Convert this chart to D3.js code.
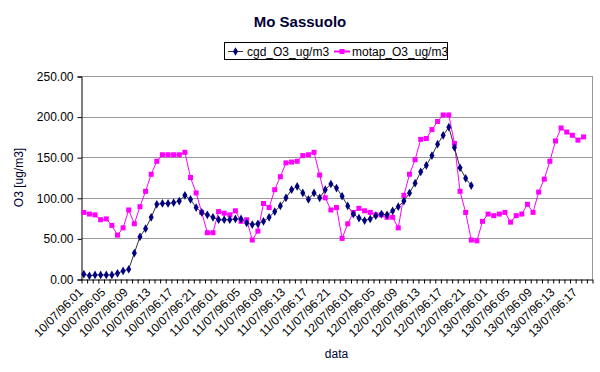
<!DOCTYPE html>
<html>
<head>
<meta charset="utf-8">
<script src="https://cdn.jsdelivr.net/npm/d3@7"></script>
<style>
  body { margin: 0; background: #fff; }
  svg { display: block; font-family: Arial, "Liberation Sans", sans-serif; }
</style>
</head>
<body>
<svg id="chart" width="600" height="372"></svg>
<script>
// hourly categories, 10/07/96:01 .. 13/07/96:19
const days = ['10', '11', '12', '13'];
const hours = ['01','02','03','04','05','06','07','08','09','10','11','12',
               '13','14','15','16','17','18','19','20','21','22','23','24'];
const categories = days.flatMap(d => hours.map(h => `${d}/07/96:${h}`)).slice(0, 91);

const tickLabels = [
  '10/07/96:01','10/07/96:05','10/07/96:09','10/07/96:13','10/07/96:17','10/07/96:21',
  '11/07/96:01','11/07/96:05','11/07/96:09','11/07/96:13','11/07/96:17','11/07/96:21',
  '12/07/96:01','12/07/96:05','12/07/96:09','12/07/96:13','12/07/96:17','12/07/96:21',
  '13/07/96:01','13/07/96:05','13/07/96:09','13/07/96:13','13/07/96:17'
];

const cgd = [
  6, 4, 5, 5, 5, 5, 7, 10, 12, 32, 52, 62, 76, 92, 93, 93,
  94, 96, 103, 98, 88, 82, 79, 76, 73, 73, 73, 74, 74, 69,
  67, 68, 71, 76, 83, 90, 100, 110, 114, 106, 98, 106, 100, 110, 117,
  112, 102, 90, 80, 75, 72, 74, 78, 80, 79, 84, 89, 96, 106, 118,
  132, 140, 152, 166, 177, 187, 162, 137, 124, 115
];

const motap = [
  82, 80, 79, 73, 74, 66, 54, 63, 85, 68, 89, 108, 129, 145, 153, 153,
  153, 153, 156, 125, 106, 82, 57, 57, 83, 81, 79, 84, 71, 73,
  48, 59, 93, 88, 110, 126, 143, 144, 145, 152, 153, 156, 128, 100, 85,
  88, 50, 68, 82, 87, 84, 82, 79, 79, 76, 76, 63, 103, 129, 147,
  172, 173, 184, 194, 202, 202, 167, 108, 82, 48, 47, 71, 80, 78, 80,
  82, 70, 78, 80, 92, 82, 107, 123, 145, 170, 186, 181, 177, 171, 175
];

const yTicks = [0, 50, 100, 150, 200, 250];

const navy = '#000080';
const pink = '#ff00ff';

const svg = d3.select('#chart');

const plotL = 81, plotR = 592, plotT = 76, plotB = 279;

const x = d3.scaleBand()
  .domain(d3.range(categories.length))
  .range([plotL, plotR])
  .paddingInner(0).paddingOuter(0);
const cx = i => x(i) + x.bandwidth() / 2;

const xEdge = d3.scaleLinear().domain([0, categories.length]).range([plotL, plotR]);

const y = d3.scaleLinear().domain([0, 250]).range([plotB, plotT]);

// gridlines
svg.append('g')
  .selectAll('line')
  .data(yTicks.filter(v => v > 0))
  .join('line')
  .attr('x1', plotL).attr('x2', plotR)
  .attr('y1', d => Math.round(y(d)) + 0.5).attr('y2', d => Math.round(y(d)) + 0.5)
  .attr('stroke', '#999').attr('stroke-width', 1);

// plot area right border
svg.append('line')
  .attr('x1', plotR + 0.5).attr('x2', plotR + 0.5)
  .attr('y1', plotT).attr('y2', plotB)
  .attr('stroke', '#999');

// y axis
const yAxis = svg.append('g')
  .attr('transform', `translate(${plotL + 0.5},0.5)`)
  .call(d3.axisLeft(y).tickValues(yTicks).tickFormat(d3.format('.2f')).tickSize(4).tickPadding(4));
yAxis.select('.domain').attr('stroke', '#000');
yAxis.selectAll('text').attr('font-size', 12).attr('fill', '#000').attr('font-family', 'Arial, "Liberation Sans", sans-serif');

// x axis (ticks at category boundaries)
const xAxis = svg.append('g')
  .attr('transform', `translate(0.5,${Math.round(plotB) + 0.5})`)
  .call(d3.axisBottom(xEdge).tickValues(d3.range(categories.length + 1)).tickFormat('').tickSize(4).tickSizeOuter(0));
xAxis.select('.domain').attr('stroke', '#000');

// x labels every 4 hours
svg.append('g')
  .selectAll('text')
  .data(tickLabels)
  .join('text')
  .attr('transform', d => {
    const i = categories.indexOf(d);
    return `translate(${cx(i)},${plotB + 14}) rotate(-45)`;
  })
  .attr('text-anchor', 'end')
  .attr('font-size', 12)
  .attr('fill', '#000')
  .text(d => d);

// series
const line = d3.line()
  .defined(d => d != null)
  .x((d, i) => cx(i))
  .y(d => y(d));

svg.append('path')
  .datum(motap)
  .attr('fill', 'none').attr('stroke', pink).attr('stroke-width', 1)
  .attr('d', line);

svg.append('path')
  .datum(cgd)
  .attr('fill', 'none').attr('stroke', '#333').attr('stroke-width', 1)
  .attr('d', line);

const diamond = d3.symbol().type(d3.symbolDiamond).size(22);

svg.append('g')
  .selectAll('rect')
  .data(motap)
  .join('rect')
  .attr('x', (d, i) => cx(i) - 2.5)
  .attr('y', d => y(d) - 2.5)
  .attr('width', 5).attr('height', 5)
  .attr('fill', pink);

svg.append('g')
  .selectAll('path')
  .data(cgd)
  .join('path')
  .attr('transform', (d, i) => `translate(${cx(i)},${y(d)})`)
  .attr('d', diamond)
  .attr('fill', navy);

// title
svg.append('text')
  .attr('x', 300).attr('y', 27)
  .attr('text-anchor', 'middle')
  .attr('font-size', 15).attr('font-weight', 'bold')
  .attr('fill', '#000033')
  .text('Mo Sassuolo');

// axis titles
svg.append('text')
  .attr('x', (plotL + plotR) / 2).attr('y', 358)
  .attr('text-anchor', 'middle')
  .attr('font-size', 12).attr('fill', '#000033')
  .text('data');

svg.append('text')
  .attr('transform', `translate(23,${(plotT + plotB) / 2}) rotate(-90)`)
  .attr('text-anchor', 'middle')
  .attr('font-size', 12).attr('fill', '#000033')
  .text('O3 [ug/m3]');

// legend
const legend = svg.append('g');
legend.append('rect')
  .attr('x', 224.5).attr('y', 42.5)
  .attr('width', 223).attr('height', 17)
  .attr('fill', '#fff').attr('stroke', '#000');

legend.append('line')
  .attr('x1', 228).attr('x2', 243).attr('y1', 51.5).attr('y2', 51.5)
  .attr('stroke', '#333');
legend.append('path')
  .attr('transform', 'translate(235.5,51.5)')
  .attr('d', diamond).attr('fill', navy);
legend.append('text')
  .attr('x', 247).attr('y', 55.5)
  .attr('font-size', 12).attr('fill', '#000')
  .text('cgd_O3_ug/m3');

legend.append('line')
  .attr('x1', 334).attr('x2', 350).attr('y1', 51.5).attr('y2', 51.5)
  .attr('stroke', pink).attr('stroke-width', 2);
legend.append('rect')
  .attr('x', 339.5).attr('y', 49).attr('width', 5).attr('height', 5)
  .attr('fill', pink);
legend.append('text')
  .attr('x', 352).attr('y', 55.5)
  .attr('font-size', 12).attr('fill', '#000')
  .text('motap_O3_ug/m3');
</script>
</body>
</html>
